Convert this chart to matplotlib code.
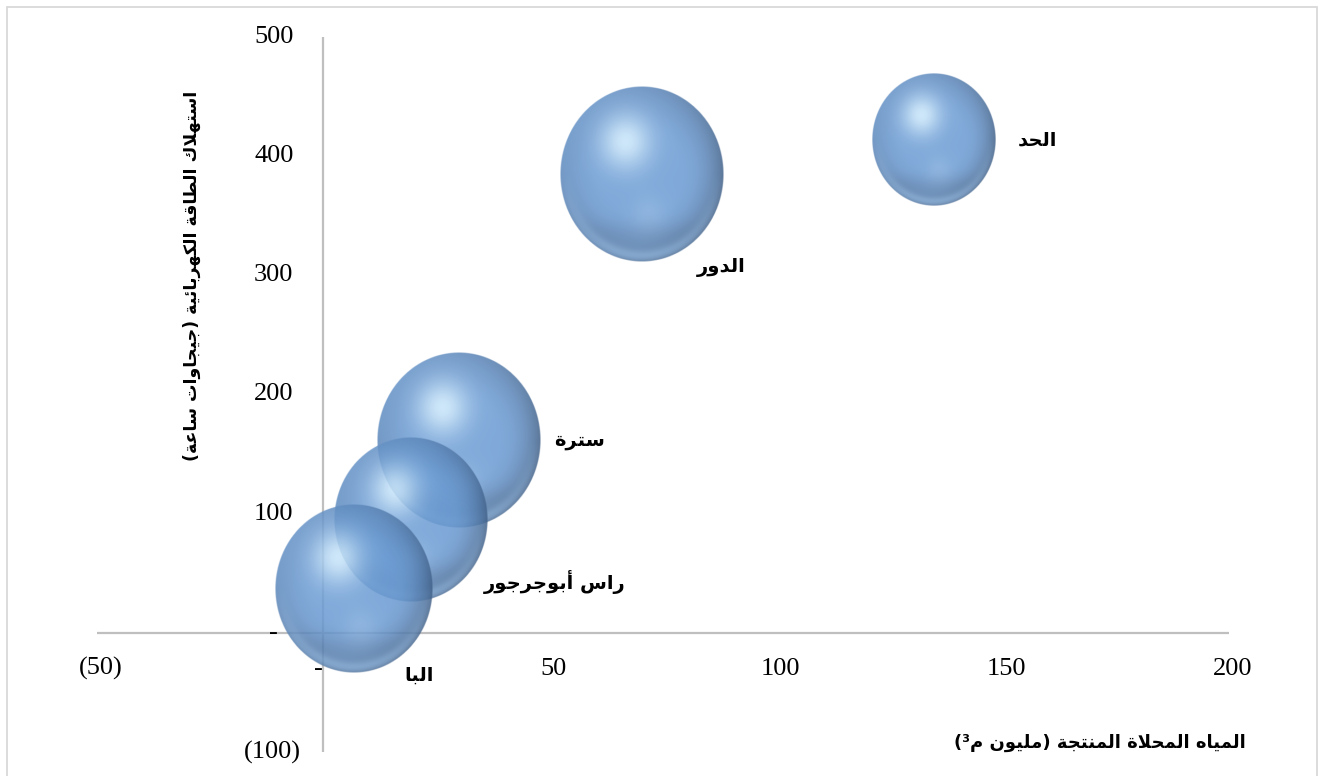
import numpy as np
import matplotlib.pyplot as plt
from matplotlib.patches import Rectangle

# desalination plants: water produced (million m3), power used (GWh), bubble size
plants = ["الحد", "الدور", "سترة", "راس أبوجرجور", "البا"]
water = [134.7, 70.4, 30.0, 19.4, 6.8]
energy = [414, 385, 162, 95, 37]
bubble = [38, 67, 67, 59, 62]

x_ticks = [-50, 0, 50, 100, 150, 200]
y_ticks = [-100, 0, 100, 200, 300, 400, 500]

x_title = "المياه المحلاة المنتجة (مليون م³)"
y_title = "استهلاك الطاقة الكهربائية (جيجاوات ساعة)"

# label offsets from bubble centre, in pixels
label_offsets = [(104, -1), (79, -93), (120, -1), (143, -62), (65, -86)]

# contextual forms (isolated, final, initial, medial) for the letters used
FORMS = {
    "ا": "\ufe8d\ufe8e", "أ": "\ufe83\ufe84", "د": "\ufea9\ufeaa",
    "ر": "\ufead\ufeae", "و": "\ufeed\ufeee", "ة": "\ufe93\ufe94",
    "ب": "\ufe8f\ufe90\ufe91\ufe92", "ت": "\ufe95\ufe96\ufe97\ufe98",
    "ج": "\ufe9d\ufe9e\ufe9f\ufea0", "ح": "\ufea1\ufea2\ufea3\ufea4",
    "س": "\ufeb1\ufeb2\ufeb3\ufeb4", "ط": "\ufec1\ufec2\ufec3\ufec4",
    "ع": "\ufec9\ufeca\ufecb\ufecc", "ق": "\ufed5\ufed6\ufed7\ufed8",
    "ك": "\ufed9\ufeda\ufedb\ufedc", "ل": "\ufedd\ufede\ufedf\ufee0",
    "م": "\ufee1\ufee2\ufee3\ufee4", "ن": "\ufee5\ufee6\ufee7\ufee8",
    "ه": "\ufee9\ufeea\ufeeb\ufeec", "ي": "\ufef1\ufef2\ufef3\ufef4",
    "ئ": "\ufe89\ufe8a\ufe8b\ufe8c",
}
LAM_ALEF = {"ا": "\ufefb\ufefc", "أ": "\ufef7\ufef8"}


def shape(text):
    # join letters and put them in visual (left to right) order
    out = []
    i = 0
    while i < len(text):
        ch = text[i]
        if ch not in FORMS:
            out.append(ch)
            i += 1
            continue
        prev = text[i - 1] if i > 0 else ""
        joins_prev = prev in FORMS and len(FORMS[prev]) == 4
        if ch == "ل" and i + 1 < len(text) and text[i + 1] in LAM_ALEF:
            out.append(LAM_ALEF[text[i + 1]][1 if joins_prev else 0])
            i += 2
            continue
        nxt = text[i + 1] if i + 1 < len(text) else ""
        joins_next = len(FORMS[ch]) == 4 and nxt in FORMS
        f = FORMS[ch]
        if joins_prev and joins_next:
            out.append(f[3])
        elif joins_prev:
            out.append(f[1])
        elif joins_next:
            out.append(f[2])
        else:
            out.append(f[0])
        i += 1
    mirror = {"(": ")", ")": "("}
    return "".join(mirror.get(c, c) for c in reversed(out))


def acct(v):
    if v == 0:
        return "-"
    if v < 0:
        return "({:,})".format(-v)
    return "{:,}".format(v)


def sphere(n=320, alpha=0.86):
    g = np.linspace(-1, 1, n)
    u, v = np.meshgrid(g, -g)
    r = np.hypot(u, v)
    base = np.array([0.42, 0.61, 0.83])
    dark = np.array([0.22, 0.33, 0.47])
    light = np.array([0.84, 0.94, 1.00])
    rim = np.array([0.55, 0.72, 0.90])
    edge = np.clip((r - 0.45) / 0.55, 0, 1) ** 2
    side = np.clip(0.5 + 0.5 * (u - v) / np.sqrt(2), 0, 1)
    shade = (edge * (0.15 + 0.8 * side))[..., None]
    rgb = base * (1 - shade) + dark * shade
    # greyer band low in the ball
    band = (np.exp(-((v + 0.7) ** 2) / (2 * 0.12 ** 2)) * (r < 0.95) * 0.18)[..., None]
    rgb = rgb * (1 - band) + dark * band
    # pale reflection along the lower rim
    low = (np.exp(-((r - 0.93) ** 2) / (2 * 0.05 ** 2)) * np.clip(-v, 0, 1) * 0.6)[..., None]
    rgb = rgb * (1 - low) + rim * low
    # faint secondary light low in the ball
    sec = (np.exp(-((u - 0.08) ** 2 + (v + 0.45) ** 2) / (2 * 0.16 ** 2)) * 0.15)[..., None]
    rgb = rgb * (1 - sec) + light * sec
    # main highlight
    hl = (np.exp(-((u + 0.2) ** 2 + (v - 0.37) ** 2) / (2 * 0.22 ** 2)) * 0.85)[..., None]
    rgb = rgb * (1 - hl) + light * hl
    a = np.clip((1 - r) * n / 2, 0, 1) * alpha
    return np.dstack([np.clip(rgb, 0, 1), a])


W, H, DPI = 1322, 776, 100
fig = plt.figure(figsize=(W / DPI, H / DPI), dpi=DPI)

left, right, top, bottom = 97, 1229, 37, 752
ax = fig.add_axes([left / W, 1 - bottom / H, (right - left) / W, (bottom - top) / H])
xlim = (x_ticks[0], x_ticks[-1])
ylim = (y_ticks[0], y_ticks[-1])

for s in ax.spines.values():
    s.set_visible(False)
ax.set_xticks([])
ax.set_yticks([])
ax.axhline(0, color="#bfbfbf", lw=1.6, zorder=1)
ax.axvline(0, color="#bfbfbf", lw=1.6, zorder=1)

# pixels per data unit, so the bubbles come out round
kx = (right - left) / (xlim[1] - xlim[0])
ky = (bottom - top) / (ylim[1] - ylim[0])
r_max = 82
img = sphere()
for name, x, y, b, (dx, dy) in zip(plants, water, energy, bubble, label_offsets):
    r = r_max * np.sqrt(b / max(bubble))
    rx = r / kx
    ry = r * 1.07 / ky
    ax.imshow(img, extent=(x - rx, x + rx, y - ry, y + ry), origin="upper",
              aspect="auto", interpolation="bilinear", zorder=3)
    ax.annotate(shape(name), (x, y), xytext=(dx, dy), textcoords="offset pixels",
                ha="center", va="center", fontsize=14, fontweight="bold",
                family="DejaVu Sans", color="black", zorder=5)

ax.set_xlim(xlim)
ax.set_ylim(ylim)

tick_font = dict(family="Liberation Serif", fontsize=19, color="black")
for v in x_ticks:
    dx = -5 if v == 0 else 4
    ax.annotate(acct(v), (v, 0), xytext=(dx, -36), textcoords="offset pixels",
                ha="center", va="center", annotation_clip=False, **tick_font)
for v in y_ticks:
    dx = -30
    if v < 0:
        dx = -23
    elif v == 0:
        dx = -46
    ax.annotate(acct(v), (0, v), xytext=(dx, 0), textcoords="offset pixels",
                ha="right", va="center", annotation_clip=False, **tick_font)

fig.text(192 / W, 1 - 276 / H, shape(y_title), rotation=90, ha="center", va="center",
         fontsize=12.5, fontweight="bold", family="DejaVu Sans")
fig.text(1100 / W, 1 - 743 / H, shape(x_title), ha="center", va="center",
         fontsize=13, fontweight="bold", family="DejaVu Sans")

fig.add_artist(Rectangle((6.5 / W, -0.05), (1317 - 6.5) / W, 1.05 - 7.5 / H,
                         transform=fig.transFigure, fill=False,
                         edgecolor="#d9d9d9", lw=1.3))

fig.savefig("out.png", dpi=DPI)
